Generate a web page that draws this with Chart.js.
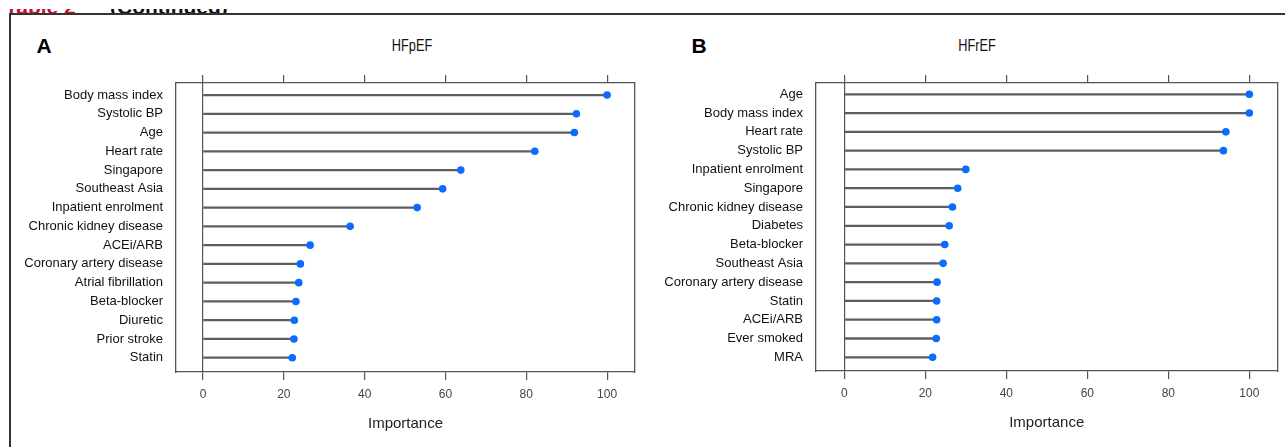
<!DOCTYPE html>
<html>
<head>
<meta charset="utf-8">
<script src="https://cdn.jsdelivr.net/npm/chart.js@4.4.0/dist/chart.umd.min.js"></script>
<style>
  html, body { margin: 0; padding: 0; background: #fff; }
  body { width: 1285px; height: 447px; position: relative; overflow: hidden; font-family: "Liberation Sans", Arial, sans-serif; }
  .frame { position: absolute; left: 9px; top: 13px; width: 1300px; height: 500px; border-left: 2px solid #333; border-top: 2px solid #333; }
  .clip { position: absolute; left: 0; top: 9px; width: 300px; height: 4px; overflow: hidden; }
  .clip span { position: absolute; top: -12.8px; font-weight: bold; font-size: 21px; line-height: 21px; white-space: nowrap; }
  .letter { position: absolute; top: 34.5px; font-weight: bold; font-size: 21px; line-height: 21px; color: #000; }
  .ptitle { position: absolute; top: 36.6px; width: 200px; margin-left: -100px; text-align: center; font-size: 17px; line-height: 17px; color: #111; transform: scaleX(0.75); }
  canvas { position: absolute; top: 0; }
</style>
</head>
<body>
<div class="clip"><span style="left:5px;color:#c8102e">Table 2</span><span style="left:110px;color:#111">(Continued)</span></div>
<div class="frame"></div>
<div class="letter" style="left:36.5px">A</div>
<div class="letter" style="left:691.5px">B</div>
<div class="ptitle" style="left:411.7px">HFpEF</div>
<div class="ptitle" style="left:976.5px">HFrEF</div>
<canvas id="chart-hfpef" width="645" height="447" style="left:0"></canvas>
<canvas id="chart-hfref" width="640" height="447" style="left:645px"></canvas>
<script>
// Данные: важность признаков
const hfpefLabels = ['Body mass index', 'Systolic BP', 'Age', 'Heart rate', 'Singapore', 'Southeast Asia',
    'Inpatient enrolment', 'Chronic kidney disease', 'ACEi/ARB', 'Coronary artery disease',
    'Atrial fibrillation', 'Beta-blocker', 'Diuretic', 'Prior stroke', 'Statin'];
const hfpefValues = [100, 92.4, 91.9, 82.1, 63.8, 59.3, 53.0, 36.4, 26.5, 24.1, 23.7, 23.0, 22.6, 22.5, 22.1];

const hfrefLabels = ['Age', 'Body mass index', 'Heart rate', 'Systolic BP', 'Inpatient enrolment', 'Singapore',
    'Chronic kidney disease', 'Diabetes', 'Beta-blocker', 'Southeast Asia', 'Coronary artery disease',
    'Statin', 'ACEi/ARB', 'Ever smoked', 'MRA'];
const hfrefValues = [100, 100, 94.2, 93.6, 30.0, 28.0, 26.7, 25.9, 24.8, 24.4, 22.9, 22.8, 22.8, 22.7, 21.8];

const xTicks = [0, 20, 40, 60, 80, 100];

Chart.defaults.font.family = '"Liberation Sans", Arial, sans-serif';

function makePanel(canvasId, labels, values, g) {
    const rows = labels.map((_, i) => i);
    const points = values.map((v, i) => ({ x: v, y: i }));
    const axisColor = '#555';

    const ctx = document.getElementById(canvasId).getContext('2d');
    return new Chart(ctx, {
        type: 'bar',
        data: {
            datasets: [
                {
                    type: 'scatter',
                    data: points,
                    pointRadius: 3.8,
                    pointBackgroundColor: '#0a6cff',
                    pointBorderWidth: 0,
                    order: 0
                },
                {
                    type: 'bar',
                    data: points,
                    backgroundColor: '#5e5e5e',
                    barThickness: 1.6,
                    order: 1
                }
            ]
        },
        options: {
            indexAxis: 'y',
            responsive: false,
            animation: false,
            events: [],
            layout: { padding: { left: 0, right: g.padRight, top: 75, bottom: g.padBottom } },
            plugins: { legend: { display: false }, tooltip: { enabled: false } },
            scales: {
                x: {
                    type: 'linear', position: 'bottom', min: g.xMin, max: g.xMax,
                    afterBuildTicks: s => { s.ticks = xTicks.map(v => ({ value: v })); },
                    afterFit: s => { s.height = 61; },
                    grid: {
                        color: c => (c.tick && c.tick.value === 0) ? axisColor : 'rgba(0,0,0,0)',
                        lineWidth: 1.2, tickColor: axisColor, tickLength: 8
                    },
                    border: { display: true, color: axisColor, width: 1.3 },
                    ticks: { padding: 7, color: '#444', font: { size: 12 }, maxRotation: 0, autoSkip: false },
                    title: { display: true, text: 'Importance', color: '#222', font: { size: 15 }, padding: { top: 0, bottom: 0 } }
                },
                xTop: {
                    type: 'linear', position: 'top', min: g.xMin, max: g.xMax,
                    afterBuildTicks: s => { s.ticks = xTicks.map(v => ({ value: v })); },
                    afterFit: s => { s.height = 8; },
                    grid: { drawOnChartArea: false, tickColor: axisColor, tickLength: 8, lineWidth: 1.2 },
                    border: { display: true, color: axisColor, width: 1.3 },
                    ticks: { display: false }
                },
                y: {
                    type: 'linear', position: 'left', reverse: true, offset: false,
                    min: g.yMin, max: g.yMax,
                    afterBuildTicks: s => { s.ticks = rows.map(v => ({ value: v })); },
                    afterFit: s => { s.width = g.yWidth; },
                    grid: { display: false, drawTicks: false, offset: false },
                    border: { display: true, color: axisColor, width: 1.3 },
                    ticks: { padding: g.labelPad, color: '#111', font: { size: 13 }, autoSkip: false,
                        callback: v => labels[v] }
                },
                yRight: {
                    type: 'linear', position: 'right', reverse: true, offset: false,
                    min: g.yMin, max: g.yMax,
                    afterFit: s => { s.width = 0; },
                    grid: { display: false, drawTicks: false },
                    border: { display: true, color: axisColor, width: 1.3 },
                    ticks: { display: false }
                }
            }
        }
    });
}

makePanel('chart-hfpef', hfpefLabels, hfpefValues, {
    padRight: 10, padBottom: 14, yWidth: 176, labelPad: 13,
    xMin: -6.68, xMax: 106.9, yMin: -0.64, yMax: 14.76
});
makePanel('chart-hfref', hfrefLabels, hfrefValues, {
    padRight: 7.3, padBottom: 15, yWidth: 170.7, labelPad: 12.7,
    xMin: -7.06, xMax: 107.0, yMin: -0.6, yMax: 14.73
});
</script>
</body>
</html>
